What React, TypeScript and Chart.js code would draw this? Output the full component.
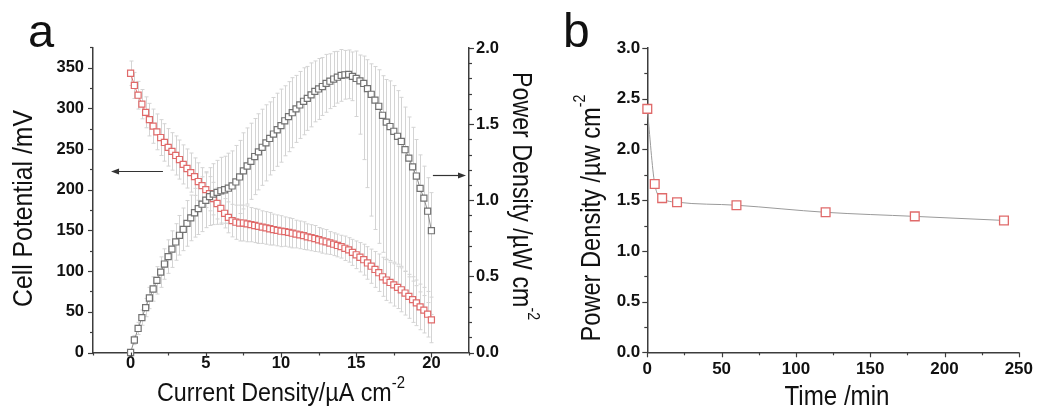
import React, { useEffect, useRef } from 'react';
import { Chart, registerables } from 'chart.js';
Chart.register(...registerables);

const FONT = '"Liberation Sans", Arial, "DejaVu Sans", sans-serif';
const AXIS = '#3c3c3c';
const RED = '#e06a6a';
const GRAY = '#727272';
const ERR = '#d4d4d4';

// ---------- Panel a data ----------
const currentDensity = [
  0, 0.25, 0.5, 0.75, 1, 1.25, 1.5, 1.75, 2, 2.25, 2.5, 2.75, 3, 3.25, 3.5, 3.75, 4, 4.25, 4.5, 4.75,
  5, 5.25, 5.5, 5.75, 6, 6.25, 6.5, 6.75, 7, 7.25, 7.5, 7.75, 8, 8.25, 8.5, 8.75, 9, 9.25, 9.5, 9.75,
  10, 10.25, 10.5, 10.75, 11, 11.25, 11.5, 11.75, 12, 12.25, 12.5, 12.75, 13, 13.25, 13.5, 13.75, 14, 14.25, 14.5, 14.75,
  15, 15.25, 15.5, 15.75, 16, 16.25, 16.5, 16.75, 17, 17.25, 17.5, 17.75, 18, 18.25, 18.5, 18.75, 19, 19.25, 19.5, 19.75, 20,
];
const cellPotential = [
  343, 328, 316, 305, 295, 286, 278, 271, 264, 258, 252, 247, 242, 237, 231, 226, 221, 216, 210, 205,
  200, 195, 189, 183, 177, 171, 166, 162, 160, 159, 159, 158, 157, 156, 155, 154, 153, 152, 151, 150,
  149, 148.5, 147.5, 146.5, 145.5, 144.5, 143.5, 142, 141, 140, 138.5, 137, 136, 134.5, 133, 131.5, 130, 128, 126, 123,
  120, 117, 114, 110, 106, 102, 98, 93, 89, 86, 83, 80, 77, 73, 69, 65, 61, 56, 52, 47, 40,
];
const potentialErr = [
  15, 16, 17, 18, 19,
  20, 21, 22, 22, 23, 23, 23, 24, 24, 24, 24, 24, 23, 23, 22, 22,
  21, 20, 19, 18, 18, 19, 20, 21,
  22, 22, 22, 21, 21, 21, 20, 20, 20, 19, 19, 19,
  18, 18, 18, 17, 17, 17, 16, 16, 16, 15, 15, 15,
  14, 14, 14, 14, 15, 15, 16, 17,
  18, 19, 20, 21, 22, 23, 24, 25, 25, 26, 26, 27, 27, 27, 28, 28, 28, 28, 28, 28,
];
const powerDensity = [
  0, 0.082, 0.158, 0.229, 0.295, 0.358, 0.417, 0.474, 0.528, 0.581, 0.63, 0.679, 0.726, 0.77, 0.809, 0.848, 0.884, 0.918, 0.945, 0.974,
  1.0, 1.024, 1.04, 1.052, 1.062, 1.069, 1.079, 1.094, 1.12, 1.153, 1.193, 1.225, 1.256, 1.287, 1.318, 1.348, 1.377, 1.406, 1.435, 1.463,
  1.49, 1.522, 1.549, 1.575, 1.6, 1.626, 1.65, 1.669, 1.692, 1.715, 1.731, 1.747, 1.768, 1.782, 1.796, 1.808, 1.82, 1.824, 1.827, 1.814,
  1.8, 1.784, 1.767, 1.733, 1.696, 1.658, 1.617, 1.558, 1.513, 1.484, 1.453, 1.42, 1.386, 1.332, 1.277, 1.219, 1.159, 1.078, 1.014, 0.928, 0.8,
];
const powerErrUp = [
  0.02, 0.03, 0.04, 0.05, 0.06, 0.07, 0.08, 0.09, 0.1,
  0.1, 0.11, 0.12, 0.12, 0.13, 0.14, 0.15, 0.15, 0.16, 0.17, 0.18, 0.18,
  0.19, 0.2, 0.21, 0.22, 0.22, 0.23, 0.23, 0.24, 0.24, 0.25, 0.25, 0.25, 0.25, 0.25, 0.25, 0.25, 0.24, 0.24, 0.24, 0.24,
  0.23, 0.23, 0.23, 0.22, 0.22, 0.22, 0.21, 0.21, 0.2, 0.2, 0.19, 0.19, 0.18, 0.18, 0.17, 0.17, 0.16, 0.16, 0.16, 0.18,
  0.17, 0.18, 0.19, 0.2, 0.22, 0.24, 0.26, 0.28, 0.3, 0.3, 0.3, 0.29, 0.28, 0.27, 0.26, 0.24, 0.22, 0.21, 0.22, 0.25,
];
const powerErrDown = [
  0.02, 0.03, 0.04, 0.05, 0.06, 0.07, 0.08, 0.09, 0.1,
  0.1, 0.11, 0.12, 0.12, 0.13, 0.14, 0.15, 0.15, 0.16, 0.17, 0.18, 0.18,
  0.19, 0.2, 0.21, 0.22, 0.22, 0.23, 0.23, 0.24, 0.24, 0.25, 0.25, 0.25, 0.25, 0.25, 0.25, 0.25, 0.24, 0.24, 0.24, 0.24,
  0.23, 0.23, 0.23, 0.22, 0.22, 0.22, 0.21, 0.21, 0.2, 0.2, 0.19, 0.19, 0.18, 0.18, 0.17, 0.17, 0.16, 0.16, 0.16,
  0.25, 0.35, 0.5, 0.65, 0.8, 0.85, 0.9, 0.9, 0.9, 0.88, 0.86, 0.84, 0.82, 0.8, 0.78, 0.75, 0.72, 0.68, 0.64, 0.6, 0.55,
];
const xTicksA = [0, 5, 10, 15, 20];
const yTicksA = [0, 50, 100, 150, 200, 250, 300, 350];
const y1TicksA = [0, 0.5, 1.0, 1.5, 2.0];

// ---------- Panel b data ----------
const timeMin = [0, 5, 10, 20, 60, 120, 180, 240];
const powerOverTime = [2.4, 1.66, 1.52, 1.48, 1.45, 1.38, 1.34, 1.3];
const xTicksB = [0, 50, 100, 150, 200, 250];
const yTicksB = [0, 0.5, 1.0, 1.5, 2.0, 2.5, 3.0];

type Part = { t: string; sup?: boolean };
type TextItem = {
  parts: Part[]; x: number; y: number; size: number; rot?: number; width?: number;
  align?: 'center' | 'left'; baseline?: 'middle' | 'alphabetic'; weight?: string;
};

function makeTextPlugin(items: TextItem[]) {
  return {
    id: 'texts',
    afterDraw(chart: any) {
      const ctx: CanvasRenderingContext2D = chart.ctx;
      items.forEach((it) => {
        ctx.save();
        const w = it.weight || 'normal';
        const mainFont = `${w} ${it.size}px ${FONT}`;
        const supSize = Math.round(it.size * 0.62);
        const supFont = `${w} ${supSize}px ${FONT}`;
        let nat = 0;
        const widths = it.parts.map((p) => {
          ctx.font = p.sup ? supFont : mainFont;
          const m = ctx.measureText(p.t).width;
          nat += m;
          return m;
        });
        const sx = it.width ? it.width / nat : 1;
        ctx.translate(it.x, it.y);
        if (it.rot) ctx.rotate(it.rot);
        ctx.scale(sx, 1);
        ctx.fillStyle = '#111';
        ctx.textBaseline = it.baseline || 'middle';
        ctx.textAlign = 'left';
        let cx = it.align === 'left' ? 0 : -nat / 2;
        it.parts.forEach((p, i) => {
          ctx.font = p.sup ? supFont : mainFont;
          ctx.fillText(p.t, cx, p.sup ? -it.size * 0.42 : 0);
          cx += widths[i];
        });
        ctx.restore();
      });
    },
  };
}

type AxisTicks = { id: string; min: number; max: number; minor: number; major: number };
function makeTickPlugin(axes: AxisTicks[]) {
  return {
    id: 'minorTicks',
    afterDraw(chart: any) {
      const ctx: CanvasRenderingContext2D = chart.ctx;
      const ca = chart.chartArea;
      ctx.save();
      ctx.strokeStyle = AXIS;
      ctx.lineWidth = 1.2;
      axes.forEach((a) => {
        const s = chart.scales[a.id];
        const n = Math.round((a.max - a.min) / a.minor);
        for (let k = 0; k <= n; k++) {
          const v = a.min + k * a.minor;
          const r = v / a.major;
          const isMajor = Math.abs(r - Math.round(r)) < 1e-6;
          const len = isMajor ? 5 : 3;
          const p = Math.round(s.getPixelForValue(v)) + 0.5;
          ctx.beginPath();
          if (s.position === 'left') { ctx.moveTo(ca.left, p); ctx.lineTo(ca.left - len, p); }
          else if (s.position === 'right') { ctx.moveTo(ca.right, p); ctx.lineTo(ca.right + len, p); }
          else { ctx.moveTo(p, ca.bottom); ctx.lineTo(p, ca.bottom + len); }
          ctx.stroke();
        }
      });
      ctx.restore();
    },
  };
}

const errorBarPlugin = {
  id: 'errBars',
  beforeDatasetsDraw(chart: any) {
    const ctx: CanvasRenderingContext2D = chart.ctx;
    const ca = chart.chartArea;
    ctx.save();
    ctx.beginPath();
    ctx.rect(ca.left, ca.top, ca.right - ca.left, ca.bottom - ca.top);
    ctx.clip();
    ctx.strokeStyle = ERR;
    ctx.lineWidth = 1;
    chart.data.datasets.forEach((ds: any) => {
      if (!ds.errUp) return;
      const xs = chart.scales.x;
      const ys = chart.scales[ds.yAxisID];
      ds.data.forEach((pt: any, i: number) => {
        const px = Math.round(xs.getPixelForValue(pt.x)) + 0.5;
        const yT = ys.getPixelForValue(pt.y + ds.errUp[i]);
        const yB = ys.getPixelForValue(pt.y - ds.errDown[i]);
        ctx.beginPath();
        ctx.moveTo(px, yT); ctx.lineTo(px, yB);
        ctx.moveTo(px - 2, yT); ctx.lineTo(px + 2, yT);
        ctx.moveTo(px - 2, yB); ctx.lineTo(px + 2, yB);
        ctx.stroke();
      });
    });
    ctx.restore();
  },
};

type Arrow = { yAxis: string; y: number; from: number; to: number };
function makeArrowPlugin(arrows: Arrow[]) {
  return {
    id: 'arrows',
    afterDraw(chart: any) {
      const ctx: CanvasRenderingContext2D = chart.ctx;
      ctx.save();
      ctx.strokeStyle = '#333';
      ctx.fillStyle = '#333';
      ctx.lineWidth = 1.2;
      arrows.forEach((a) => {
        const xs = chart.scales.x;
        const ys = chart.scales[a.yAxis];
        const y = Math.round(ys.getPixelForValue(a.y)) + 0.5;
        const x1 = xs.getPixelForValue(a.from);
        const x2 = xs.getPixelForValue(a.to);
        const dir = Math.sign(x2 - x1);
        ctx.beginPath();
        ctx.moveTo(x1, y); ctx.lineTo(x2 - dir * 5, y);
        ctx.stroke();
        ctx.beginPath();
        ctx.moveTo(x2, y);
        ctx.lineTo(x2 - dir * 8, y - 3);
        ctx.lineTo(x2 - dir * 8, y + 3);
        ctx.closePath();
        ctx.fill();
      });
      ctx.restore();
    },
  };
}

function baseAxis(extra: any, size: number) {
  return {
    type: 'linear',
    grid: { display: false, drawTicks: false },
    border: { display: true, color: AXIS, width: 1.5 },
    ...extra,
    ticks: {
      font: { family: FONT, size, weight: 'bold' },
      color: '#111', autoSkip: false, maxRotation: 0,
      ...(extra.ticks || {}),
    },
  };
}

export default function App() {
  const refA = useRef<HTMLCanvasElement>(null);
  const refB = useRef<HTMLCanvasElement>(null);

  useEffect(() => {
    const potentialPts = currentDensity.map((x, i) => ({ x, y: cellPotential[i] }));
    const powerPts = currentDensity.map((x, i) => ({ x, y: powerDensity[i] }));

    const chartA = new Chart(refA.current as HTMLCanvasElement, {
      type: 'line',
      data: {
        datasets: [
          {
            label: 'Power density',
            data: powerPts,
            yAxisID: 'y1',
            borderColor: '#8a8a8a',
            borderWidth: 1,
            pointStyle: 'rect',
            pointRadius: 4.3,
            pointBorderColor: GRAY,
            pointBackgroundColor: '#ffffff',
            pointBorderWidth: 1.2,
            clip: false,
            errUp: powerErrUp,
            errDown: powerErrDown,
          } as any,
          {
            label: 'Cell potential',
            data: potentialPts,
            yAxisID: 'y',
            borderColor: RED,
            borderWidth: 1,
            pointStyle: 'rect',
            pointRadius: 4.3,
            pointBorderColor: RED,
            pointBackgroundColor: '#ffffff',
            pointBorderWidth: 1.2,
            clip: false,
            errUp: potentialErr,
            errDown: potentialErr,
          } as any,
        ],
      },
      options: {
        animation: false,
        responsive: false,
        maintainAspectRatio: false,
        layout: { padding: { top: 48, left: 0, right: 0, bottom: 0 } },
        plugins: { legend: { display: false }, tooltip: { enabled: false } },
        scales: {
          x: baseAxis({
            position: 'bottom', min: -2.5, max: 22.5,
            afterBuildTicks: (s: any) => { s.ticks = xTicksA.map((v) => ({ value: v })); },
            afterFit: (s: any) => { s.height = 58.5; },
            ticks: { padding: 1, callback: (v: any) => String(v) },
          }, 16.5),
          y: baseAxis({
            position: 'left', min: 0, max: 374,
            afterBuildTicks: (s: any) => { s.ticks = yTicksA.map((v) => ({ value: v })); },
            afterFit: (s: any) => { s.width = 93; },
            ticks: { padding: 9, callback: (v: any) => String(v) },
          }, 16.5),
          y1: baseAxis({
            position: 'right', min: 0, max: 2.0,
            afterBuildTicks: (s: any) => { s.ticks = y1TicksA.map((v) => ({ value: v })); },
            afterFit: (s: any) => { s.width = 71; },
            ticks: { padding: 7, callback: (v: any) => Number(v).toFixed(1) },
          }, 16.5),
        } as any,
      },
      plugins: [
        errorBarPlugin,
        makeTickPlugin([
          { id: 'x', min: -2.5, max: 22.5, minor: 2.5, major: 5 },
          { id: 'y', min: 0, max: 374, minor: 25, major: 50 },
          { id: 'y1', min: 0, max: 2.0, minor: 0.1, major: 0.5 },
        ]),
        makeArrowPlugin([
          { yAxis: 'y', y: 223, from: 2.15, to: -1.3 },
          { yAxis: 'y1', y: 1.168, from: 20.1, to: 22.3 },
        ]),
        makeTextPlugin([
          { parts: [{ t: 'a' }], x: 28, y: 47, size: 47, align: 'left', baseline: 'alphabetic' },
          { parts: [{ t: 'Current Density/µA cm' }, { t: '-2', sup: true }], x: 281, y: 394, size: 25, width: 248 },
          { parts: [{ t: 'Cell Potential /mV' }], x: 24, y: 208.5, size: 28, width: 197, rot: -Math.PI / 2 },
          { parts: [{ t: 'Power Density /µW cm' }, { t: '-2', sup: true }], x: 521, y: 196, size: 28, width: 248, rot: Math.PI / 2 },
        ]),
      ],
    } as any);

    const timePts = timeMin.map((x, i) => ({ x, y: powerOverTime[i] }));
    const chartB = new Chart(refB.current as HTMLCanvasElement, {
      type: 'line',
      data: {
        datasets: [
          {
            label: 'Power density vs time',
            data: timePts,
            borderColor: '#9a9a9a',
            borderWidth: 1,
            cubicInterpolationMode: 'monotone',
            pointStyle: 'rect',
            pointRadius: 6.2,
            pointBorderColor: RED,
            pointBackgroundColor: '#ffffff',
            pointBorderWidth: 1.3,
            clip: false,
          } as any,
        ],
      },
      options: {
        animation: false,
        responsive: false,
        maintainAspectRatio: false,
        layout: { padding: { top: 48, left: 0, right: 16, bottom: 0 } },
        plugins: { legend: { display: false }, tooltip: { enabled: false } },
        scales: {
          x: baseAxis({
            position: 'bottom', min: 0, max: 250,
            afterBuildTicks: (s: any) => { s.ticks = xTicksB.map((v) => ({ value: v })); },
            afterFit: (s: any) => { s.height = 58.7; },
            ticks: { padding: 7, callback: (v: any) => String(v) },
          }, 17),
          y: baseAxis({
            position: 'left', min: 0, max: 3.0,
            afterBuildTicks: (s: any) => { s.ticks = yTicksB.map((v) => ({ value: v })); },
            afterFit: (s: any) => { s.width = 107.3; },
            ticks: { padding: 7, callback: (v: any) => Number(v).toFixed(1) },
          }, 17),
        } as any,
      },
      plugins: [
        makeTickPlugin([
          { id: 'x', min: 0, max: 250, minor: 25, major: 50 },
          { id: 'y', min: 0, max: 3.0, minor: 0.25, major: 0.5 },
        ]),
        makeTextPlugin([
          { parts: [{ t: 'b' }], x: 23, y: 47, size: 48, align: 'left', baseline: 'alphabetic' },
          { parts: [{ t: 'Power Density /µw cm' }, { t: '-2', sup: true }], x: 52, y: 218, size: 28, width: 247, rot: -Math.PI / 2 },
          { parts: [{ t: 'Time /min' }], x: 297, y: 398, size: 27, width: 105 },
        ]),
      ],
    } as any);

    return () => {
      chartA.destroy();
      chartB.destroy();
    };
  }, []);

  return (
    <div style={{ position: 'fixed', left: 0, top: 0, width: 1040, height: 411, background: '#fff' }}>
      <canvas ref={refA} width={540} height={411} style={{ position: 'absolute', left: 0, top: 0, width: 540, height: 411 }} />
      <canvas ref={refB} width={500} height={411} style={{ position: 'absolute', left: 540, top: 0, width: 500, height: 411 }} />
    </div>
  );
}
